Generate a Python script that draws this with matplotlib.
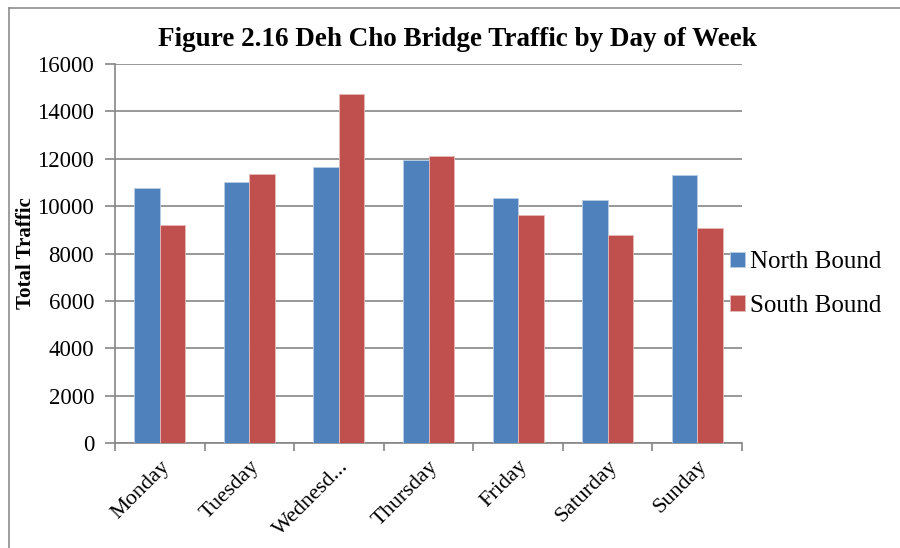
import matplotlib
matplotlib.use("Agg")
import matplotlib.pyplot as plt
import numpy as np
from matplotlib.lines import Line2D

days = ["Monday", "Tuesday", "Wednesd...", "Thursday", "Friday", "Saturday", "Sunday"]
north = [10750, 11030, 11650, 11930, 10340, 10270, 11310]
south = [9200, 11370, 14720, 12130, 9640, 8800, 9080]
yticks = [0, 2000, 4000, 6000, 8000, 10000, 12000, 14000, 16000]

plt.rcParams['font.family'] = ['Liberation Serif', 'DejaVu Serif']

fig = plt.figure(figsize=(9, 5.48), dpi=100)
ax = fig.add_axes([115/900, 1-443/548, (742-115)/900, (443-64)/548])

x = np.arange(len(days))
w = 0.285
blue = "#4F81BD"
red = "#C0504D"
ax.bar(x - w/2, north, w, color=blue, edgecolor="#B9CDE5", linewidth=0.6, label="North Bound", zorder=3)
ax.bar(x + w/2, south, w, color=red, edgecolor="#E6B9B8", linewidth=0.6, label="South Bound", zorder=3)

ax.set_xlim(-0.5, len(days) - 0.5)
ax.set_ylim(0, 16000)
ax.set_yticks(yticks)
ax.set_yticklabels([str(v) for v in yticks], fontsize=16.5)
ax.yaxis.grid(True, color="#868686", linewidth=1.2, zorder=0)
ax.set_axisbelow(True)

ax.set_xticks(np.arange(len(days) + 1) - 0.5, minor=False)
ax.set_xticklabels([])
ax.set_xticks(x, minor=True)
ax.set_xticklabels(days, minor=True, rotation=45, ha='right', rotation_mode='anchor', fontsize=16)
ax.tick_params(axis='x', which='minor', length=0, pad=10)
ax.tick_params(axis='x', which='major', length=6, color="#868686", width=1.2, direction='out')
ax.tick_params(axis='y', length=7, color="#868686", width=1.2, direction='out', pad=8)

for s in ['top', 'right']:
    ax.spines[s].set_visible(False)
for s in ['left', 'bottom']:
    ax.spines[s].set_color("#868686")
    ax.spines[s].set_linewidth(1.2)

ax.set_ylabel("Total Traffic", fontsize=15, fontweight='bold')
ax.yaxis.set_label_coords(-79/627, 0.5)

fig.text(457/900, 1-40/548, "Figure 2.16 Deh Cho Bridge Traffic by Day of Week",
         ha='center', va='center', fontsize=19.5, fontweight='bold')

leg = fig.legend(loc='center left', bbox_to_anchor=(730/900, 1-284/548), frameon=False,
                 fontsize=18, handlelength=0.58, handleheight=0.58, handletextpad=0.22,
                 labelspacing=0.85, borderpad=0, borderaxespad=0)

fig.add_artist(Line2D([9/900, 1.0], [1-7.5/548, 1-7.5/548], transform=fig.transFigure,
                      color="#8C8C8C", linewidth=1.2))
fig.add_artist(Line2D([9/900, 9/900], [0, 1-7.5/548], transform=fig.transFigure,
                      color="#8C8C8C", linewidth=1.2))

fig.savefig("out.png", dpi=100)
